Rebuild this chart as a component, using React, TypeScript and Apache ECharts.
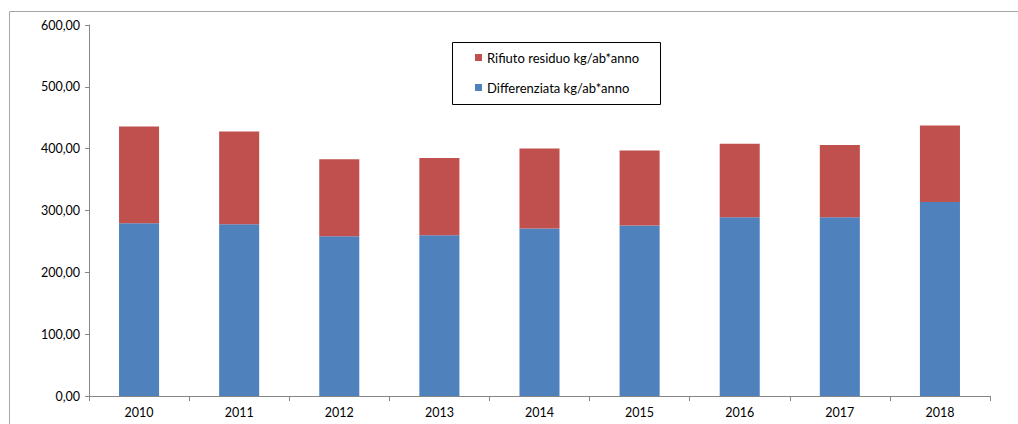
import React, { useEffect, useRef } from "react";
import * as echarts from "echarts";

const years = ["2010", "2011", "2012", "2013", "2014", "2015", "2016", "2017", "2018"];
const differenziata = [279.4, 277.8, 258.4, 260.0, 270.8, 275.6, 289.1, 289.1, 313.9];
const rifiutoResiduo = [156.4, 149.9, 124.6, 125.1, 129.4, 121.4, 118.7, 117.0, 123.5];
const seriesNames = ["Rifiuto residuo kg/ab*anno", "Differenziata kg/ab*anno"];

const FONT = "Lato, 'Liberation Sans', sans-serif";

export default function App() {
  const ref = useRef<HTMLDivElement>(null);
  useEffect(() => {
    document.body.style.margin = "0";
    const chart = echarts.init(ref.current!, undefined, { renderer: "svg" });
    chart.setOption({
      animation: false,
      backgroundColor: "#ffffff",
      textStyle: { fontFamily: FONT },
      grid: { left: 89, right: 28, top: 25, bottom: 28, containLabel: false },
      graphic: [
        {
          type: "rect",
          shape: { x: 9.5, y: 11.5, width: 1100, height: 500 },
          style: { fill: "none", stroke: "#a6a6a6", lineWidth: 1 },
          silent: true,
        },
        {
          type: "rect",
          shape: { x: 452.5, y: 42.5, width: 208, height: 62 },
          style: { fill: "#ffffff", stroke: "#000000", lineWidth: 1 },
          silent: true,
          z: 10,
        },
      ],
      legend: {
        orient: "vertical",
        left: 470,
        top: 46,
        itemWidth: 7,
        itemHeight: 7,
        itemGap: 17,
        icon: "rect",
        data: seriesNames,
        textStyle: { fontFamily: FONT, fontSize: 13, color: "#000000", padding: [0, 0, 0, 0] },
        z: 20,
      },
      xAxis: {
        type: "category",
        data: years,
        axisLine: { lineStyle: { color: "#868686" } },
        axisTick: { show: true, alignWithLabel: false, length: 5, lineStyle: { color: "#868686" } },
        axisLabel: { color: "#000000", fontSize: 12.5, margin: 10, fontFamily: FONT },
      },
      yAxis: {
        type: "value",
        min: 0,
        max: 600,
        interval: 100,
        axisLine: { show: true, lineStyle: { color: "#868686" } },
        axisTick: { show: true, length: 4, lineStyle: { color: "#868686" } },
        splitLine: { show: false },
        axisLabel: {
          color: "#000000",
          fontSize: 12.5,
          margin: 9,
          fontFamily: FONT,
          formatter: (v: number) => v.toFixed(2).replace(".", ","),
        },
      },
      series: [
        {
          name: seriesNames[1],
          type: "bar",
          stack: "tot",
          barWidth: "40%",
          data: differenziata,
          itemStyle: { color: "#4F81BD" },
        },
        {
          name: seriesNames[0],
          type: "bar",
          stack: "tot",
          barWidth: "40%",
          data: rifiutoResiduo,
          itemStyle: { color: "#C0504D" },
        },
      ],
    });
    return () => chart.dispose();
  }, []);
  return <div ref={ref} style={{ width: 1018, height: 424 }} />;
}
